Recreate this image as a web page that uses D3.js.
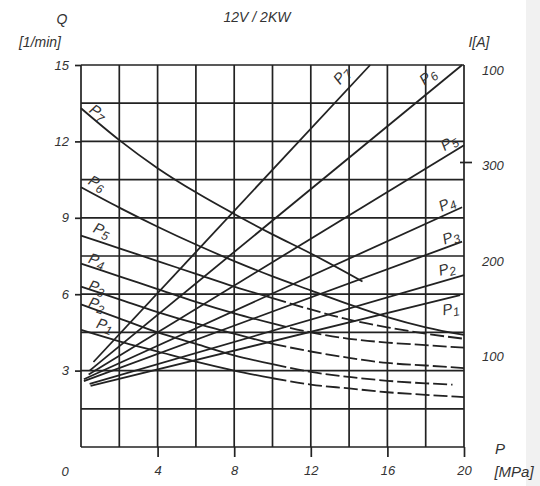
<!DOCTYPE html>
<html>
<head>
<meta charset="utf-8">
<script src="https://cdn.jsdelivr.net/npm/d3@7"></script>
<style>
  html, body { margin: 0; padding: 0; background: #fff; }
  svg { display: block; }
  text { font-family: "Liberation Sans", Arial, sans-serif; font-style: italic; fill: #333; }
</style>
</head>
<body>
<svg id="chart" width="540" height="486"></svg>
<script>
// ---------- data ----------
const pumps = ["P1", "P2", "P3", "P4", "P5", "P6", "P7"];

// Flow Q [l/min] versus pressure P [MPa]
const flowPressure = [0, 2, 4, 6, 8, 10, 12, 14, 16, 18, 20];
const flowP1 = [4.6, 4.15, 3.75, 3.35, 3.0, 2.7, 2.45, 2.3, 2.15, 2.05, 1.96];
const flowP2 = [5.6, 5.05, 4.5, 4.05, 3.6, 3.25, 2.95, 2.75, 2.6, 2.5, null];
const flowP3 = [6.3, 5.8, 5.3, 4.85, 4.45, 4.05, 3.75, 3.5, 3.3, 3.2, 3.1];
const flowP4 = [7.2, 6.7, 6.2, 5.7, 5.25, 4.85, 4.5, 4.25, 4.1, 4.0, 3.9];
const flowP5 = [8.3, 7.8, 7.3, 6.8, 6.3, 5.85, 5.4, 5.0, 4.7, 4.45, 4.25];
const flowP6 = [10.2, 9.4, 8.65, 7.95, 7.3, 6.7, 6.15, 5.6, 5.1, 4.7, 4.4];
const flowP7Pressure = [0, 2, 4, 6, 8, 10, 12, 14.7];
const flowP7 = [13.3, 12.05, 10.95, 10.0, 9.15, 8.35, 7.6, 6.5];
const flowP2EndPressure = 19.4, flowP2End = 2.45;

// Current I [A] lines (start / end)
const currentStartP = [0.5, 0.45, 0.15, 0.15, 0.4, 0.45, 0.65];
const currentStartI = [64, 66, 69, 71, 76, 80, 89];
const currentEndP   = [19.8, 20, 19.9, 19.9, 20, 19.9, 15.1];
const currentEndI   = [159, 180, 215, 251, 316, 400, 400];

// ticks
const pressureTicks = [4, 8, 12, 16, 20];
const flowTicks = [3, 6, 9, 12, 15];
const currentTicks = [400, 300, 200, 100];
const currentTickLabels = ["100", "300", "200", "100"];

// curve label anchors (data units) and angles
const flowLabelP = [1.25, 0.84, 0.84, 0.84, 1.1, 0.84, 0.89];
const flowLabelQ = [4.79, 5.61, 6.28, 7.34, 8.52, 10.37, 13.15];
const flowLabelAngle = [18, 18, 18, 18, 22, 27, 35];
const currentLabelP = [19.3, 19.1, 19.3, 19.1, 19.2, 18.1, 13.6];
const currentLabelI = [145, 187, 220, 255, 319, 388, 389];
const currentLabelAngle = [-10, -15, -20, -25, -32, -40, -50];

// ---------- scales ----------
const svg = d3.select("#chart");
const x = d3.scaleLinear().domain([0, 20]).range([81, 464]);
const y = d3.scaleLinear().domain([0, 15]).range([447, 65]);
const yI = d3.scaleLinear().domain([0, 400]).range([447, 65]);
const ink = "#222";

// faint scan strip at the right edge
svg.append("rect").attr("x", 526).attr("y", 0).attr("width", 14).attr("height", 486)
  .attr("fill", "#f1f1f1");

// ---------- grid ----------
const grid = svg.append("g").attr("stroke", ink).attr("stroke-width", 1.7);
grid.selectAll("line.v").data(d3.range(0, 20.01, 2)).join("line")
  .attr("x1", d => x(d)).attr("x2", d => x(d))
  .attr("y1", y(0)).attr("y2", y(15));
grid.selectAll("line.h").data(d3.range(0, 15.01, 1.5)).join("line")
  .attr("x1", x(0)).attr("x2", x(20))
  .attr("y1", d => y(d)).attr("y2", d => y(d));

// ---------- axes ----------
const xAxis = svg.append("g").attr("transform", `translate(0,${y(0)})`)
  .call(d3.axisBottom(x).tickValues(pressureTicks).tickSize(10).tickPadding(9));
const yAxis = svg.append("g").attr("transform", `translate(${x(0)},0)`)
  .call(d3.axisLeft(y).tickValues(flowTicks).tickSize(6).tickPadding(4));
const rAxis = svg.append("g").attr("transform", `translate(${x(20)},0)`)
  .call(d3.axisRight(yI).tickValues(currentTicks).tickSize(0).tickPadding(18)
    .tickFormat((d, i) => currentTickLabels[i]));
[xAxis, yAxis, rAxis].forEach(g => {
  g.select(".domain").remove();
  g.selectAll(".tick line").attr("stroke", ink).attr("stroke-width", 1.7);
  g.selectAll(".tick text").attr("font-size", 13).attr("fill", "#333")
    .attr("font-family", "Liberation Sans, Arial, sans-serif").attr("font-style", "italic");
});
yAxis.selectAll(".tick text").attr("dx", -2);
rAxis.selectAll(".tick text").attr("dy", "0.7em");
// small dash at the 300 A mark
svg.append("line").attr("stroke", ink).attr("stroke-width", 1.7)
  .attr("x1", x(20) - 4).attr("x2", x(20) + 8)
  .attr("y1", yI(300) + 2).attr("y2", yI(300) + 2);

// ---------- flow curves ----------
const flowSeries = [flowP1, flowP2, flowP3, flowP4, flowP5, flowP6];
const curveGroup = svg.append("g").attr("fill", "none").attr("stroke", ink).attr("stroke-width", 1.8);
const line = d3.line().x(d => x(d[0])).y(d => y(d[1])).curve(d3.curveMonotoneX);
flowSeries.forEach((vals, i) => {
  let pts = flowPressure.map((p, k) => [p, vals[k]]).filter(d => d[1] != null);
  if (i === 1) pts.push([flowP2EndPressure, flowP2End]);
  const dashed = i < 5;
  const solidPts = dashed ? pts.filter(d => d[0] <= 10) : pts;
  curveGroup.append("path").attr("d", line(solidPts));
  if (dashed) {
    curveGroup.append("path").attr("d", line(pts.filter(d => d[0] >= 10)))
      .attr("stroke-dasharray", "14,4");
  }
});
curveGroup.append("path").attr("d", line(flowP7Pressure.map((p, k) => [p, flowP7[k]])));

// ---------- current lines ----------
svg.append("g").attr("stroke", ink).attr("stroke-width", 1.8)
  .selectAll("line").data(pumps).join("line")
  .attr("x1", (d, i) => x(currentStartP[i])).attr("y1", (d, i) => yI(currentStartI[i]))
  .attr("x2", (d, i) => x(currentEndP[i])).attr("y2", (d, i) => yI(currentEndI[i]));

// ---------- curve labels ----------
function pumpLabel(g, name, px, py, angle) {
  const t = g.append("text").attr("font-size", 15)
    .attr("text-anchor", "middle")
    .attr("transform", `translate(${px},${py}) rotate(${angle})`)
    .attr("dy", "0.35em");
  t.append("tspan").text(name[0]);
  t.append("tspan").attr("font-size", 12).attr("dy", 3).text(name.slice(1));
}
const labels = svg.append("g");
pumps.forEach((name, i) => {
  pumpLabel(labels, name, x(flowLabelP[i]), y(flowLabelQ[i]), flowLabelAngle[i]);
  pumpLabel(labels, name, x(currentLabelP[i]), yI(currentLabelI[i]), currentLabelAngle[i]);
});

// ---------- titles ----------
svg.append("text").attr("x", 257).attr("y", 22).attr("text-anchor", "middle")
  .attr("font-size", 14).text("12V / 2KW");
svg.append("text").attr("x", 62).attr("y", 24).attr("text-anchor", "middle")
  .attr("font-size", 14).text("Q");
svg.append("text").attr("x", 40).attr("y", 47).attr("text-anchor", "middle")
  .attr("font-size", 14).text("[1/min]");
svg.append("text").attr("x", 479).attr("y", 47).attr("text-anchor", "middle")
  .attr("font-size", 14).text("I[A]");
svg.append("text").attr("x", 65).attr("y", 476).attr("text-anchor", "middle")
  .attr("font-size", 13).text("0");
svg.append("text").attr("x", 500).attr("y", 454).attr("text-anchor", "middle")
  .attr("font-size", 15).text("P");
svg.append("text").attr("x", 514).attr("y", 477).attr("text-anchor", "middle")
  .attr("font-size", 15).text("[MPa]");
</script>
</body>
</html>
